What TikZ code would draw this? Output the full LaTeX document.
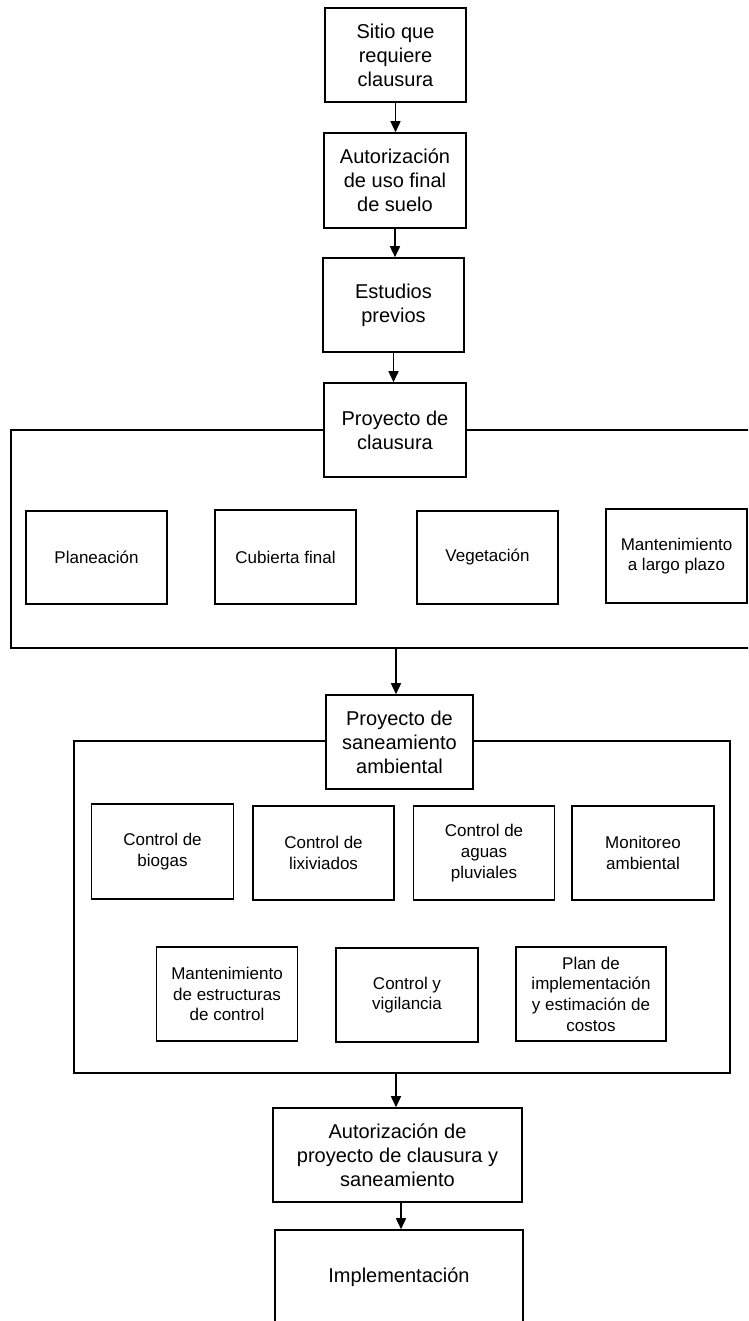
\documentclass[tikz,border=0pt]{standalone}
\usepackage{fontspec}
\setmainfont{Liberation Sans}
\usetikzlibrary{arrows.meta}
\tikzset{
  mainbox/.style={draw, fill=white, line width=1.6pt, inner sep=0pt, align=center,
    font=\fontsize{20}{24}\selectfont},
  subbox/.style={draw, fill=white, line width=1.6pt, inner sep=0pt, align=center,
    font=\fontsize{17}{20.7}\selectfont},
  framebox/.style={draw, line width=1.6pt, inner sep=0pt},
  flow/.style={line width=1.6pt, -{Triangle[length=11pt,width=10pt]}}
}
\begin{document}
\begin{tikzpicture}[x=1pt,y=-1pt]
\useasboundingbox (0,0) rectangle (748,1321);
\clip (0,0) rectangle (748,1321);
% frames
\node[framebox, minimum width=749pt, minimum height=218pt] (f1) at (385.5,539) {};
\node[framebox, minimum width=656pt, minimum height=332pt] (f2) at (402,907) {};
% main chain
\node[mainbox, minimum width=141pt, minimum height=94pt] (b1) at (395.5,55) {Sitio que\\requiere\\clausura};
\node[mainbox, minimum width=142pt, minimum height=95pt] (b2) at (395,180.5) {Autorización\\de uso final\\de suelo};
\node[mainbox, minimum width=141pt, minimum height=94pt] (b3) at (393.5,305) {Estudios\\previos};
\node[mainbox, minimum width=142pt, minimum height=94pt] (b4) at (395,430) {Proyecto de\\clausura};
% clausura items
\node[subbox, minimum width=141pt, minimum height=93pt] (p1) at (96.5,557.5) {Planeación};
\node[subbox, minimum width=141pt, minimum height=94pt] (p2) at (285.5,557) {Cubierta final};
\node[subbox, minimum width=141pt, minimum height=93pt] (p3) at (487.5,557.5) {Vegetación};
\node[subbox, minimum width=141pt, minimum height=94pt] (p4) at (676.5,556) {Mantenimiento\\a largo plazo};
% saneamiento
\node[mainbox, minimum width=147pt, minimum height=94pt] (b5) at (399.5,742) {Proyecto de\\saneamiento\\ambiental};
\node[subbox, minimum width=142pt, minimum height=95pt] (s1) at (162.5,851.5) {Control de\\biogas};
\node[subbox, minimum width=141pt, minimum height=94pt] (s2) at (323.5,853) {Control de\\lixiviados};
\node[subbox, minimum width=141pt, minimum height=94pt] (s3) at (484,853) {Control de\\aguas\\pluviales};
\node[subbox, minimum width=142pt, minimum height=94pt] (s4) at (643,853) {Monitoreo\\ambiental};
\node[subbox, minimum width=141pt, minimum height=94pt] (s5) at (227,994) {Mantenimiento\\de estructuras\\de control};
\node[subbox, minimum width=142pt, minimum height=94pt] (s6) at (407,995) {Control y\\vigilancia};
\node[subbox, minimum width=150pt, minimum height=94pt] (s7) at (591,994) {Plan de\\implementación\\y estimación de\\costos};
% final
\node[mainbox, minimum width=249pt, minimum height=94pt] (b6) at (397.5,1155) {Autorización de\\proyecto de clausura y\\saneamiento};
\node[mainbox, minimum width=248pt, minimum height=94pt] (b7) at (399,1277) {Implementación};
% arrows
\draw[flow] (b1.south) -- (b1.south |- b2.north);
\draw[flow] (b2.south) -- (b2.south |- b3.north);
\draw[flow] (b3.south) -- (b3.south |- b4.north);
\draw[flow] ([xshift=-3.5pt]b5.north |- f1.south) -- ([xshift=-3.5pt]b5.north);
\draw[flow] ([xshift=-1.5pt]b6.north |- f2.south) -- ([xshift=-1.5pt]b6.north);
\draw[flow] ([xshift=3.5pt]b6.south) -- ([xshift=3.5pt]b6.south |- b7.north);
\end{tikzpicture}
\end{document}
